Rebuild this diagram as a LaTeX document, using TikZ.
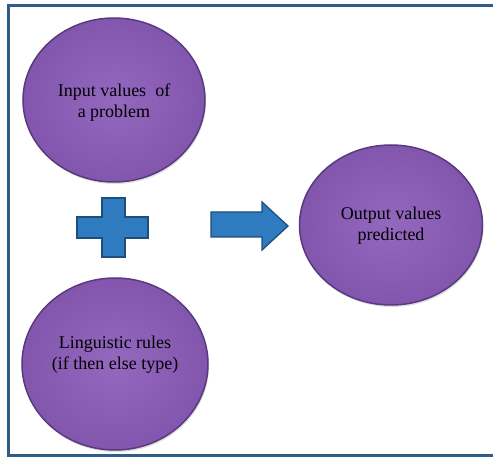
\documentclass[tikz,border=0pt]{standalone}
\usepackage{fontspec}
\setmainfont{Liberation Serif}
\usetikzlibrary{shapes.geometric,shadows}
\definecolor{framec}{HTML}{2F5D8A}
\definecolor{purin}{HTML}{9468BF}
\definecolor{purout}{HTML}{8356AD}
\definecolor{purdark}{HTML}{5A3A7E}
\definecolor{bluef}{HTML}{2E7BC0}
\definecolor{blued}{HTML}{1E4E7C}
\tikzset{
  ball/.style={ellipse, draw=purdark, line width=1.5pt, inner color=purin, outer color=purout,
    drop shadow={opacity=0.25, shadow xshift=1pt, shadow yshift=-2pt}},
  balltext/.style={align=center, font=\fontsize{18}{21}\selectfont, text=black},
  blueshape/.style={fill=bluef, draw=blued, line width=1.3pt, line join=miter},
}
\begin{document}
\begin{tikzpicture}[x=1pt,y=-1pt]
\useasboundingbox (0,0) rectangle (493,457);
\fill[white] (0,0) rectangle (493,457);
% frame
\draw[framec, line width=3pt] (493,5.5) -- (8.5,5.5) -- (8.5,455) -- (493,455);
% circles
\node[ball, minimum width=182pt, minimum height=164pt] (inp) at (114,100) {};
\node[balltext] (inpt) at (114,103) {Input values\ \ of\\a problem};
\node[ball, minimum width=186pt, minimum height=172pt] (ling) at (115,364) {};
\node[balltext] (lingt) at (115,355) {Linguistic rules\\(if then else type)};
\node[ball, minimum width=183pt, minimum height=160pt] (outp) at (391,225) {};
\node[balltext] (outpt) at (391,226) {Output values\\predicted};
% plus
\draw[blueshape] (102,198) -- (125,198) -- (125,217) -- (148,217) -- (148,238) -- (125,238)
  -- (125,257) -- (102,257) -- (102,238) -- (77,238) -- (77,217) -- (102,217) -- cycle;
% arrow
\draw[blueshape] (211,212) -- (262,212) -- (262,202) -- (288,226) -- (262,250) -- (262,237)
  -- (211,237) -- cycle;
\end{tikzpicture}
\end{document}
